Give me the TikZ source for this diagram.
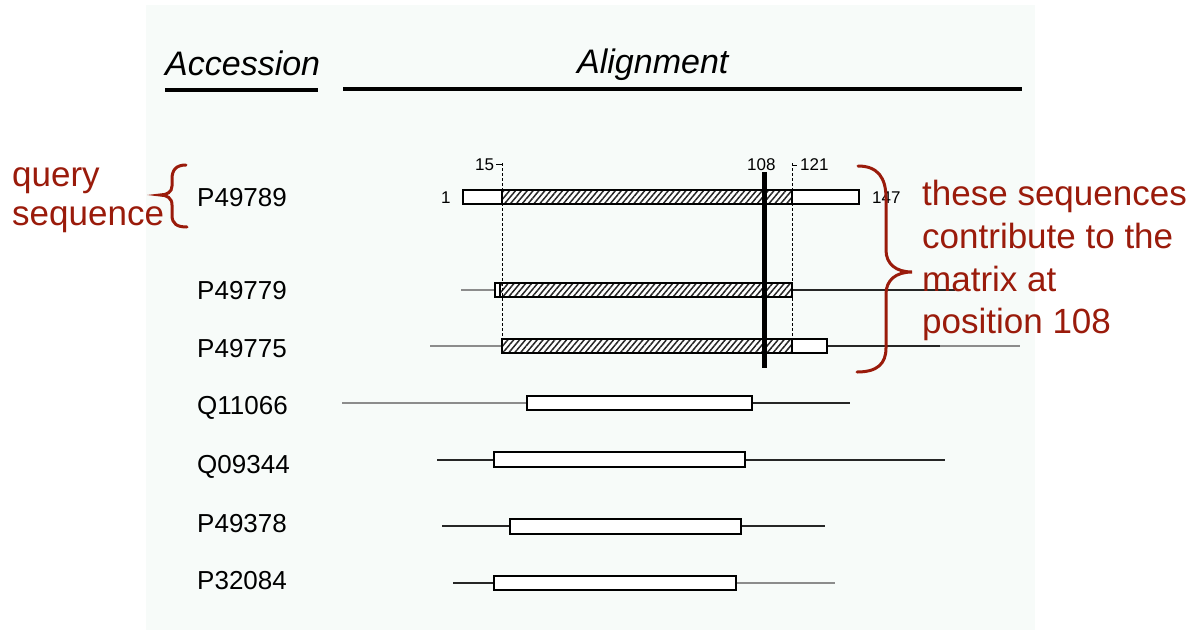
\documentclass[tikz,border=0pt]{standalone}
\usepackage{fontspec}
\setmainfont{Liberation Sans}
\usetikzlibrary{patterns.meta}
\definecolor{annot}{HTML}{9A1B0B}
\definecolor{panel}{HTML}{F7FBF9}
\definecolor{stub}{HTML}{8C8C8C}
\begin{document}
\begin{tikzpicture}[x=1pt,y=-1pt,
  hdr/.style={anchor=base west,inner sep=0pt,font=\fontsize{34}{34}\selectfont\itshape},
  acc/.style={anchor=base west,inner sep=0pt,font=\fontsize{26}{26}\selectfont},
  posnum/.style={anchor=base west,inner sep=0pt,font=\fontsize{17}{17}\selectfont},
  note/.style={anchor=base west,inner sep=0pt,text=annot,font=\fontsize{35}{35}\selectfont},
  seqbox/.style={draw=black,line width=1.8pt,fill=white},
  hatched/.style={draw=black,line width=1.8pt,preaction={fill=white},
    pattern={Lines[angle=50,distance=4.5pt,line width=1.5pt]},pattern color=black!85},
  greystub/.style={draw=stub,line width=2pt},
  darkstub/.style={draw=black!85,line width=1.8pt},
  guide/.style={draw=black,line width=0.8pt,dash pattern=on 3pt off 2pt},
  brace/.style={draw=annot,line width=3pt,line cap=round}]
\useasboundingbox (0,0) rectangle (1200,630);
\fill[white] (0,0) rectangle (1200,630);
\fill[panel] (146,5) rectangle (1035,630);

% column headers
\node[hdr] (hacc) at (165,75) {Accession};
\node[hdr] (haln) at (577,73) {Alignment};
\draw[line width=4pt] (165,90) -- (318,90);
\draw[line width=4pt] (343,89) -- (1022,89);

% accession numbers
\node[acc] (r1) at (197,206) {P49789};
\node[acc] (r2) at (197,299) {P49779};
\node[acc] (r3) at (197,357) {P49775};
\node[acc] (r4) at (197,414) {Q11066};
\node[acc] (r5) at (197,473) {Q09344};
\node[acc] (r6) at (197,532) {P49378};
\node[acc] (r7) at (197,589) {P32084};

% query sequence P49789
\draw[seqbox] (463,190) rectangle (859,204);
\draw[hatched] (502,190) rectangle (792,204);
\node[posnum] (p1) at (441,203) {1};
\node[posnum] (p147) at (872,203) {147};
\node[posnum] (p15) at (475,170) {15};
\node[posnum] (p108) at (747,170) {108};
\node[posnum] (p121) at (800,170) {121};
\draw[line width=0.8pt] (496,164) -- (502,164);
\draw[line width=0.8pt] (793,165) -- (797,165);

% P49779
\draw[greystub] (461,290) -- (495,290);
\draw[darkstub] (792,290) -- (955,290);
\draw[seqbox] (495,283) rectangle (500,297);
\draw[hatched] (500,283) rectangle (792,297);

% P49775
\draw[greystub] (430,346) -- (502,346);
\draw[darkstub] (827,346) -- (940,346);
\draw[greystub] (940,346) -- (1020,346);
\draw[hatched] (502,339) rectangle (792,353);
\draw[seqbox] (792,339) rectangle (827,353);

% Q11066
\draw[greystub] (342,403) -- (527,403);
\draw[darkstub] (752,403) -- (850,403);
\draw[seqbox] (527,396) rectangle (752,410);

% Q09344
\draw[darkstub] (437,460) -- (494,460);
\draw[darkstub] (745,460) -- (945,460);
\draw[seqbox] (494,452) rectangle (745,467);

% P49378
\draw[darkstub] (442,526) -- (510,526);
\draw[darkstub] (741,526) -- (825,526);
\draw[seqbox] (510,519) rectangle (741,534);

% P32084
\draw[darkstub] (453,583) -- (494,583);
\draw[greystub] (736,583) -- (835,583);
\draw[seqbox] (494,576) rectangle (736,590);

% alignment window guides and column 108
\draw[guide] (502,163) -- (502,353);
\draw[guide] (792,163) -- (792,353);
\draw[line width=5pt] (764,172) -- (764,368);

% annotations
\node[note] (q1) at (12,186) {query};
\node[note] (q2) at (12,225) {sequence};
\draw[brace] (186,165) .. controls (176,165) and (172,170) .. (172,179) -- (172,186)
  .. controls (172,192) and (167,195) .. (160,195)
  .. controls (167,195) and (172,198) .. (172,205) -- (172,215)
  .. controls (172,224) and (177,227) .. (187,227);
\draw[brace] (858,166) .. controls (878,166) and (886,178) .. (886,198) -- (886,250)
  .. controls (886,264) and (896,272) .. (912,272)
  .. controls (896,272) and (886,280) .. (886,294) -- (886,348)
  .. controls (886,364) and (877,372) .. (857,372);
\node[note] (t1) at (922,205) {these sequences};
\node[note] (t2) at (922,248) {contribute to the};
\node[note] (t3) at (922,291) {matrix at};
\node[note] (t4) at (922,333) {position 108};
\end{tikzpicture}
\end{document}
